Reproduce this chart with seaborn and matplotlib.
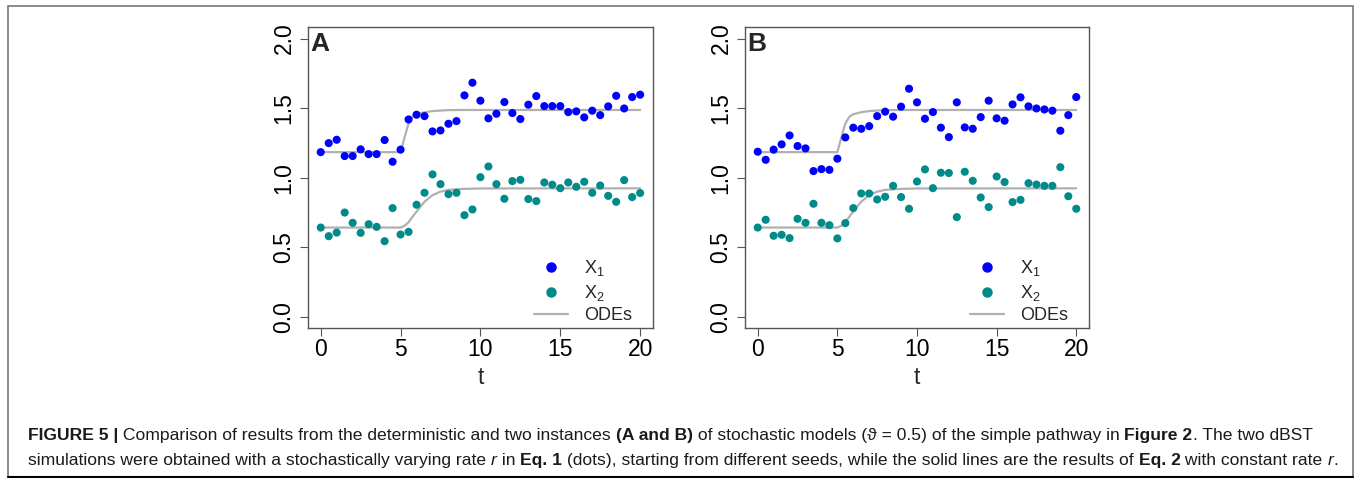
import numpy as np
import pandas as pd
import seaborn as sns
import matplotlib.pyplot as plt
from matplotlib.lines import Line2D
from matplotlib.patches import Rectangle

# time points of the stochastic runs (every 0.5 from 0 to 20)
t_pts = [i * 0.5 for i in range(41)]

# panel A (seed 1)
a_x1 = [1.184, 1.249, 1.273, 1.156, 1.156, 1.204, 1.170, 1.170, 1.271, 1.115,
        1.202, 1.419, 1.453, 1.443, 1.333, 1.340, 1.388, 1.407, 1.592, 1.683,
        1.554, 1.427, 1.460, 1.544, 1.465, 1.422, 1.525, 1.587, 1.515, 1.515,
        1.515, 1.472, 1.477, 1.434, 1.482, 1.450, 1.513, 1.589, 1.498, 1.580,
        1.597]
a_x2 = [0.642, 0.580, 0.606, 0.750, 0.676, 0.604, 0.666, 0.647, 0.544, 0.782,
        0.592, 0.611, 0.806, 0.892, 1.024, 0.954, 0.882, 0.892, 0.731, 0.772,
        1.004, 1.081, 0.954, 0.849, 0.976, 0.985, 0.847, 0.832, 0.966, 0.950,
        0.925, 0.966, 0.935, 0.971, 0.892, 0.944, 0.870, 0.827, 0.983, 0.861,
        0.890]

# panel B (seed 2)
b_x1 = [1.187, 1.129, 1.202, 1.240, 1.304, 1.228, 1.211, 1.048, 1.062, 1.057,
        1.137, 1.290, 1.360, 1.352, 1.371, 1.443, 1.475, 1.439, 1.511, 1.640,
        1.542, 1.424, 1.472, 1.360, 1.292, 1.542, 1.362, 1.352, 1.436, 1.554,
        1.427, 1.410, 1.527, 1.578, 1.513, 1.498, 1.491, 1.482, 1.338, 1.450,
        1.580]
b_x2 = [0.642, 0.698, 0.583, 0.590, 0.566, 0.705, 0.676, 0.813, 0.676, 0.659,
        0.564, 0.674, 0.782, 0.887, 0.887, 0.844, 0.863, 0.942, 0.861, 0.777,
        0.973, 1.060, 0.925, 1.036, 1.034, 0.717, 1.043, 0.978, 0.858, 0.789,
        1.009, 0.969, 0.825, 0.841, 0.961, 0.951, 0.942, 0.942, 1.076, 0.867,
        0.777]

# deterministic ODE solution
ode_t = [0, 5, 5.25, 5.5, 5.75, 6, 6.5, 7, 7.5, 8, 9, 10, 20]
ode_x1 = [1.184, 1.184, 1.290, 1.390, 1.438, 1.457, 1.471, 1.479, 1.483, 1.486, 1.487, 1.487, 1.487]
ode_x2 = [0.642, 0.642, 0.655, 0.680, 0.720, 0.757, 0.828, 0.875, 0.900, 0.913, 0.920, 0.923, 0.924]

x_ticks = [0, 5, 10, 15, 20]
y_ticks = [0.0, 0.5, 1.0, 1.5, 2.0]
panels = ["A", "B"]

BLUE = "#0000FF"
TEAL = "#008B8B"
GREY = "#B0B0B0"

sns.set_theme(style="white")
plt.rcParams["font.family"] = ["Liberation Sans", "DejaVu Sans"]
plt.rcParams["mathtext.fontset"] = "custom"
plt.rcParams["mathtext.rm"] = "Liberation Sans"
plt.rcParams["mathtext.it"] = "Liberation Sans:italic"

ode_df = pd.DataFrame({
    "t": ode_t * 2,
    "value": ode_x1 + ode_x2,
    "species": ["X1"] * len(ode_t) + ["X2"] * len(ode_t),
})

fig = plt.figure(figsize=(13.56, 4.78), dpi=100)
ax_pos = [[0.2271, 0.3138, 0.2544, 0.6287], [0.5494, 0.3138, 0.2537, 0.6287]]

for k, (x1, x2) in enumerate([(a_x1, a_x2), (b_x1, b_x2)]):
    ax = fig.add_axes(ax_pos[k])
    df = pd.DataFrame({
        "t": t_pts * 2,
        "value": x1 + x2,
        "species": ["X1"] * len(t_pts) + ["X2"] * len(t_pts),
    })
    sns.lineplot(data=ode_df, x="t", y="value", units="species", estimator=None,
                 color=GREY, linewidth=1.6, ax=ax, legend=False, zorder=1)
    sns.scatterplot(data=df, x="t", y="value", hue="species",
                    palette={"X1": BLUE, "X2": TEAL}, s=34, linewidth=0,
                    ax=ax, legend=False, zorder=2)
    ax.set_xlim(-0.8, 20.8)
    ax.set_ylim(-0.08, 2.08)
    ax.set_xticks(x_ticks)
    ax.set_yticks(y_ticks)
    ax.set_xticklabels([str(v) for v in x_ticks])
    ax.set_yticklabels([f"{v:.1f}" for v in y_ticks], rotation=90, va="center")
    ax.tick_params(axis="both", which="major", direction="out", length=6,
                   width=0.8, color="#555555", labelsize=16.5, labelcolor="black")
    ax.tick_params(axis="y", pad=3)
    ax.tick_params(axis="x", pad=1)
    ax.tick_params(left=True, bottom=True)
    for sp in ax.spines.values():
        sp.set_color("#555555")
        sp.set_linewidth(1.0)
    ax.set_xlabel("t", fontsize=16.5, labelpad=4)
    ax.set_ylabel("")
    ax.text(0.008, 0.985, panels[k], transform=ax.transAxes, fontsize=19,
            fontweight="bold", ha="left", va="top")

    handles = [
        Line2D([], [], marker="o", linestyle="none", color=BLUE, markersize=6.5),
        Line2D([], [], marker="o", linestyle="none", color=TEAL, markersize=6.5),
        Line2D([], [], color=GREY, linewidth=1.6),
    ]
    ax.legend(handles, ["X$_1$", "X$_2$", "ODEs"], loc="lower right",
              bbox_to_anchor=(0.94, 0.012), frameon=False, fontsize=13,
              handlelength=1.9, handletextpad=0.9, labelspacing=0.25,
              borderpad=0, borderaxespad=0)

# outer frame of the figure
fig.patches.append(Rectangle((8 / 1356, 1 / 478), 1345 / 1356, 471 / 478,
                             transform=fig.transFigure, fill=False,
                             edgecolor="#777777", linewidth=1.2))
fig.add_artist(Line2D([8 / 1356, 1353 / 1356], [1.0 / 478, 1.0 / 478],
                      transform=fig.transFigure, color="black", linewidth=1.5))

# caption, written piece by piece to mix bold / italic runs
line1 = [("FIGURE 5 |", "bold", "normal"),
         (" Comparison of results from the deterministic and two instances ", "normal", "normal"),
         ("(A and B)", "bold", "normal"),
         (" of stochastic models (\u03d1 = 0.5) of the simple pathway in ", "normal", "normal"),
         ("Figure 2", "bold", "normal"),
         (". The two dBST", "normal", "normal")]
line2 = [("simulations were obtained with a stochastically varying rate ", "normal", "normal"),
         ("r", "normal", "italic"),
         (" in ", "normal", "normal"),
         ("Eq. 1", "bold", "normal"),
         (" (dots), starting from different seeds, while the solid lines are the results of ", "normal", "normal"),
         ("Eq. 2", "bold", "normal"),
         (" with constant rate ", "normal", "normal"),
         ("r", "normal", "italic"),
         (".", "normal", "normal")]

renderer = fig.canvas.get_renderer()
for y_px, pieces in [(434, line1), (459, line2)]:
    x_px = 28
    for txt, weight, style in pieces:
        t_obj = fig.text(x_px / 1356, 1 - y_px / 478, txt, fontsize=12.6,
                         fontweight=weight, fontstyle=style, ha="left",
                         va="center_baseline", color="#1a1a1a")
        bb = t_obj.get_window_extent(renderer=renderer)
        x_px += bb.width

fig.savefig("out.png", dpi=100)
